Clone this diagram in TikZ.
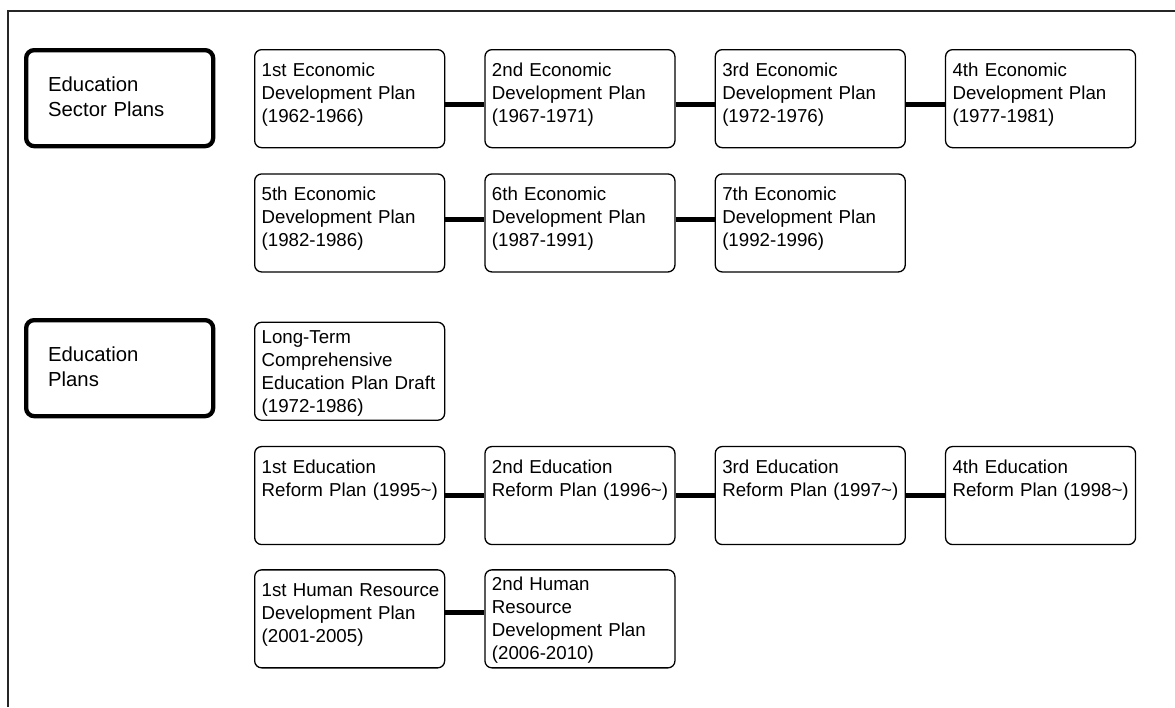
\documentclass[tikz,border=0pt]{standalone}
\usepackage{fontspec}
\setmainfont{Liberation Sans}
\usetikzlibrary{positioning}
\hyphenpenalty=10000
\exhyphenpenalty=10000

\begin{document}
\begin{tikzpicture}[
  x=1pt, y=1pt,
  every node/.append style={
    rounded corners=7pt,
    align=left,
    inner ysep=0pt,
    font=\fontsize{18.7}{23}\selectfont
  },
  head node/.style={draw, line width=4.3pt, rounded corners=8pt,
    font=\fontsize{20.3}{25}\selectfont,
    minimum width=187pt, minimum height=96pt, inner xsep=22pt,
    text width=143pt, text height=41pt, text depth=55pt},
  plan node/.style={draw, line width=1.3pt,
    minimum width=190pt, minimum height=98pt, inner xsep=7pt,
    text width=176pt, text height=27pt, text depth=71pt},
  tall node/.style={text height=21pt, text depth=77pt},
  link/.style={line width=4.5pt},
  frame/.style={line width=1.2pt, black!85}
]
\useasboundingbox (0,0) rectangle (1175,-707);

% frame
\draw[frame] (8,-707) -- (8,-11) -- (1175,-11);

% headings
\node[head node, anchor=north west] (sector) at (24,-48) {Education\\ Sector Plans};
\node[head node, anchor=north west] (edu) at (24,-318) {Education\\ Plans};

% economic development plans
\node[plan node, anchor=north west] (eco1) at (254,-49) {1st Economic\\ Development Plan\\ (1962-1966)};
\node[plan node, right=39pt of eco1] (eco2) {2nd Economic\\ Development Plan\\ (1967-1971)};
\node[plan node, right=39pt of eco2] (eco3) {3rd Economic\\ Development Plan\\ (1972-1976)};
\node[plan node, right=39pt of eco3] (eco4) {4th Economic\\ Development Plan\\ (1977-1981)};

\node[plan node, below=25pt of eco1] (eco5) {5th Economic\\ Development Plan\\ (1982-1986)};
\node[plan node, right=39pt of eco5] (eco6) {6th Economic\\ Development Plan\\ (1987-1991)};
\node[plan node, right=39pt of eco6] (eco7) {7th Economic\\ Development Plan\\ (1992-1996)};

% education plans
\node[plan node, tall node, below=49pt of eco5] (longterm) {Long-Term\\ Comprehensive\\ Education~Plan~Draft\\ (1972-1986)};

\node[plan node, below=25pt of longterm] (reform1) {1st Education\\ Reform~Plan~(1995\textasciitilde)};
\node[plan node, right=39pt of reform1] (reform2) {2nd Education\\ Reform~Plan~(1996\textasciitilde)};
\node[plan node, right=39pt of reform2] (reform3) {3rd Education\\ Reform~Plan~(1997\textasciitilde)};
\node[plan node, right=39pt of reform3] (reform4) {4th Education\\ Reform~Plan~(1998\textasciitilde)};

\node[plan node, below=24pt of reform1] (hrd1) {1st~Human~Resource\\ Development Plan\\ (2001-2005)};
\node[plan node, tall node, right=39pt of hrd1] (hrd2) {2nd Human\\ Resource\\ Development Plan\\ (2006-2010)};

% links
\foreach \a/\b in {eco1/eco2, eco2/eco3, eco3/eco4}
  \draw[link] ([yshift=-6pt]\a.east) -- ([yshift=-6pt]\b.west);
\foreach \a/\b in {eco5/eco6, eco6/eco7}
  \draw[link] ([yshift=3.5pt]\a.east) -- ([yshift=3.5pt]\b.west);
\foreach \a/\b in {reform1/reform2, reform2/reform3, reform3/reform4}
  \draw[link] (\a.east) -- (\b.west);
\draw[link] ([yshift=6.5pt]hrd1.east) -- ([yshift=6.5pt]hrd2.west);
\end{tikzpicture}
\end{document}
